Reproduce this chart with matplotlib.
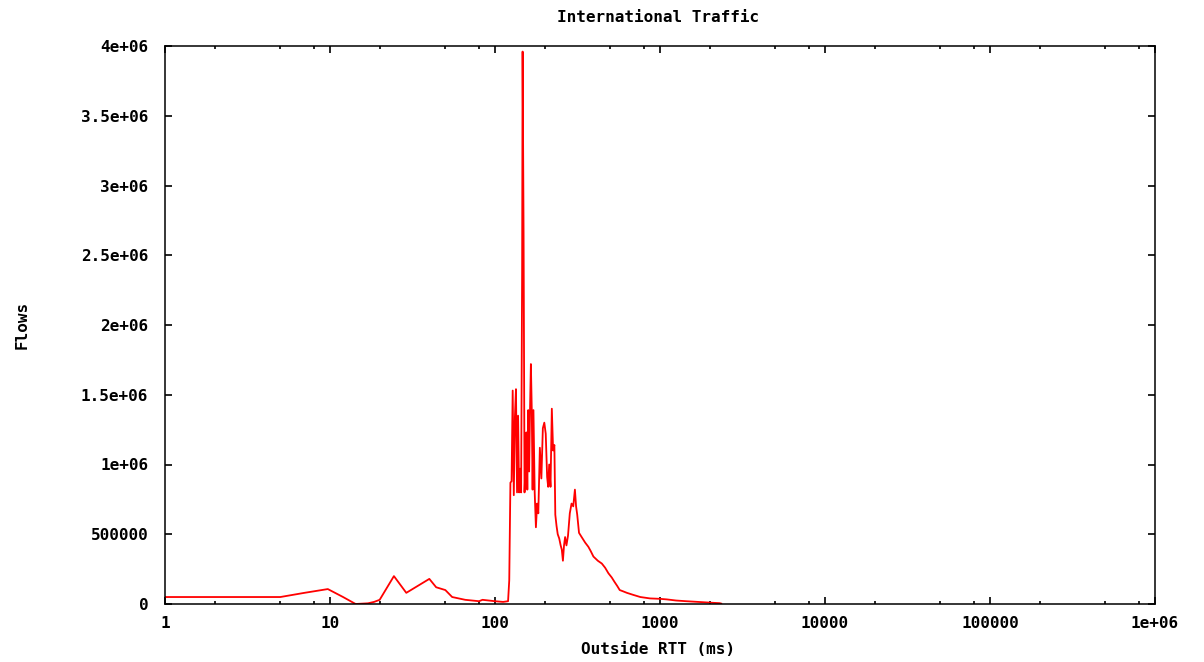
import matplotlib
matplotlib.use("Agg")
import matplotlib.pyplot as plt
from matplotlib.ticker import LogLocator, NullFormatter, FixedLocator, FixedFormatter

# RTT buckets (ms) and flow counts
rtt_ms = [1, 5, 7, 9.7, 12, 14.3, 17, 18.5, 20, 24.4, 29, 40, 44, 50, 55, 66, 80, 84, 100, 112,
          120, 122, 124, 126, 128, 130, 132, 134, 136, 138,
          140, 142, 144, 146, 147, 149, 151, 153, 155, 157,
          159, 161, 163, 165, 167, 169, 171, 174, 177, 180,
          183, 187, 191, 195, 199, 203, 207, 210, 213, 217,
          221, 225, 229, 232, 236, 240, 245, 250, 254, 258,
          262, 266, 271, 277, 284, 291, 298, 305, 310, 315,
          323, 335, 352, 368, 380, 395, 420, 444, 465, 487,
          510, 529, 550, 570, 600, 630, 690, 760, 870, 1000,
          1100, 1250, 1440, 1700, 1990, 2300, 2350]
flows = [50000, 50000, 80000, 107000, 50000, 0, 5000, 15000, 30000, 200000, 80000, 180000, 120000, 100000, 50000, 30000, 20000, 30000, 20000, 15000,
         20000, 170000, 870000, 880000, 1530000, 780000, 1340000, 1540000, 800000, 1350000,
         800000, 970000, 800000, 2380000, 3960000, 2670000, 800000, 980000, 1230000, 820000,
         1390000, 950000, 1390000, 1720000, 1400000, 820000, 1390000, 800000, 550000, 720000,
         650000, 1120000, 900000, 1260000, 1300000, 1220000, 910000, 840000, 1000000, 840000,
         1400000, 1100000, 1140000, 640000, 560000, 500000, 470000, 420000, 390000, 310000,
         420000, 480000, 420000, 490000, 650000, 720000, 700000, 820000, 700000, 640000,
         510000, 480000, 440000, 410000, 380000, 340000, 310000, 290000, 260000, 220000,
         190000, 160000, 130000, 100000, 90000, 80000, 65000, 50000, 40000, 37000,
         33000, 25000, 20000, 15000, 10000, 6000, 3000]

x_ticks = [1, 10, 100, 1000, 10000, 100000, 1000000]
x_labels = ["1", "10", "100", "1000", "10000", "100000", "1e+06"]
y_ticks = [0, 500000, 1000000, 1500000, 2000000, 2500000, 3000000, 3500000, 4000000]
y_labels = ["0", "500000", "1e+06", "1.5e+06", "2e+06", "2.5e+06", "3e+06", "3.5e+06", "4e+06"]

font = dict(family="DejaVu Sans Mono", weight="bold", size=11.5)

fig = plt.figure(figsize=(12.04, 6.62), dpi=100)
ax = fig.add_axes([165 / 1204, 58 / 662, 990 / 1204, 558 / 662])

ax.plot(rtt_ms, flows, color="#ff0000", linewidth=1.3)

ax.set_xscale("log")
ax.set_xlim(1, 1e6)
ax.set_ylim(0, 4e6)

ax.xaxis.set_major_locator(FixedLocator(x_ticks))
ax.xaxis.set_major_formatter(FixedFormatter(x_labels))
ax.xaxis.set_minor_locator(LogLocator(base=10, subs=[2, 5, 8]))
ax.xaxis.set_minor_formatter(NullFormatter())
ax.yaxis.set_major_locator(FixedLocator(y_ticks))
ax.yaxis.set_major_formatter(FixedFormatter(y_labels))

ax.tick_params(which="both", direction="in", top=True, right=True, width=1.2, color="black")
ax.tick_params(which="major", length=5)
ax.tick_params(which="minor", length=2.5)
ax.tick_params(axis="x", pad=9)
ax.tick_params(axis="y", pad=12)
for lab in ax.get_xticklabels() + ax.get_yticklabels():
    lab.set_fontfamily(font["family"])
    lab.set_fontweight(font["weight"])
    lab.set_fontsize(font["size"])

for sp in ax.spines.values():
    sp.set_linewidth(1.1)
    sp.set_color("black")

fig.text(658 / 1204, 1 - 18 / 662, "International Traffic", ha="center", va="center", **font)
fig.text(658 / 1204, 1 - 650 / 662, "Outside RTT (ms)", ha="center", va="center", **font)
fig.text(22 / 1204, 1 - 325 / 662, "Flows", ha="center", va="center", rotation=90, **font)

fig.savefig("out.png", dpi=100)
